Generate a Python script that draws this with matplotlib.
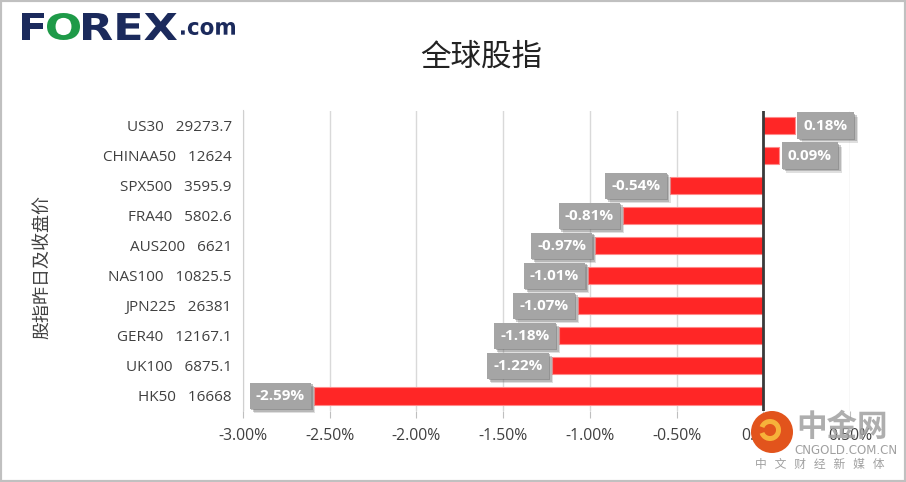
import numpy as np
import matplotlib
matplotlib.use("Agg")
import matplotlib.pyplot as plt
import matplotlib.patheffects as pe
from matplotlib.patches import Circle, Rectangle, PathPatch, Wedge
from matplotlib.textpath import TextPath
from matplotlib.font_manager import FontProperties
from matplotlib.transforms import Affine2D

plt.rcParams['font.family'] = ['Open Sans', 'Noto Sans CJK SC', 'DejaVu Sans']

names = ["US30", "CHINAA50", "SPX500", "FRA40", "AUS200",
         "NAS100", "JPN225", "GER40", "UK100", "HK50"]
closes = ["29273.7", "12624", "3595.9", "5802.6", "6621",
          "10825.5", "26381", "12167.1", "6875.1", "16668"]
changes = [0.18, 0.09, -0.54, -0.81, -0.97, -1.01, -1.07, -1.18, -1.22, -2.59]
xticks = [-3.0, -2.5, -2.0, -1.5, -1.0, -0.5, 0.0, 0.5]

NAVY = "#1b2a5c"
GREEN = "#1e9a48"
CJK = ["Noto Sans CJK SC", "DejaVu Sans"]

W, H = 906, 482
fig = plt.figure(figsize=(W / 100, H / 100), dpi=100)
fig.patch.set_facecolor("white")
fig.add_artist(Rectangle((0, 0), 1, 1, transform=fig.transFigure, fill=False,
                         ec="#c0c0c0", lw=3))

ax = fig.add_axes([243 / W, 1 - 411 / H, 607 / W, 300.5 / H])
y = np.arange(len(names))
ax.barh(y, changes, height=0.57, color="#ff2626", ec="#ff8a8a", lw=0.8, zorder=3)
ax.set_xlim(-3.0, 0.5)
ax.set_ylim(len(names) - 0.5, -0.5)
ax.set_xticks(xticks)
ax.set_xticklabels([f"{v:.2f}%" for v in xticks], fontsize=11.3, color="#404040")
ax.set_yticks(y)
ax.set_yticklabels([f"{n}   {c}" for n, c in zip(names, closes)], fontsize=11, color="#404040")
ax.tick_params(axis="y", length=0, pad=8)
ax.tick_params(axis="x", length=5, color="#bfbfbf", pad=7)
ax.grid(axis="x", color="#d9d9d9", lw=1, zorder=0)
for s in ["top", "right", "bottom"]:
    ax.spines[s].set_visible(False)
ax.spines["left"].set_color("#d0d0d0")
ax.axvline(0, color="#3a3a3a", lw=2, zorder=4)

for yi, v in zip(y, changes):
    off, ha = ((6.5, "left") if v >= 0 else (-6.5, "right"))
    t = ax.annotate(f"{v:.2f}%", (v, yi), xytext=(off, 0), textcoords="offset points",
                    ha=ha, va="center", fontsize=11, fontweight="bold", color="white",
                    bbox=dict(boxstyle="square,pad=0.4", fc="#a5a5a5", ec="none"), zorder=5)
    # soft drop shadow, faked with a few stacked offsets
    t.get_bbox_patch().set_path_effects([
        pe.withSimplePatchShadow(offset=(3, -3), shadow_rgbFace="#808080", alpha=0.25),
        pe.withSimplePatchShadow(offset=(2, -2), shadow_rgbFace="#707070", alpha=0.35),
        pe.withSimplePatchShadow(offset=(1, -1), shadow_rgbFace="#606060", alpha=0.4),
        pe.Normal()])

fig.text(42 / W, 1 - 267 / H, "股指昨日及收盘价", rotation=90, ha="center", va="center",
         fontsize=13, color="#404040", family=CJK)
fig.text(481 / W, 1 - 57 / H, "全球股指", ha="center", va="center", fontsize=22,
         color="#222222", family=CJK)


def fit_text(s, x0, y0, x1, y1, color):
    """Draw s stretched into the pixel box (x0, y0)-(x1, y1), y from the top."""
    path = TextPath((0, 0), s, size=100, prop=FontProperties(family="DejaVu Sans", weight="bold"))
    e = path.get_extents()
    tr = (Affine2D().translate(-e.x0, -e.y0)
          .scale((x1 - x0) / e.width, (y1 - y0) / e.height)
          .translate(x0, H - y1))
    fig.add_artist(PathPatch(tr.transform_path(path), transform=None, fc=color, ec="none"))


# FOREX.com logo
fit_text("F", 22, 13, 44, 40, NAVY)
fit_text("O", 47, 13, 80, 40, GREEN)
fit_text("REX", 83, 13, 177, 40, NAVY)
fit_text(".com", 181, 22, 235, 35, NAVY)

# watermark
fig.add_artist(Circle((772, H - 432), 21, transform=None, fc="#e2541c", ec="none", zorder=10))
fig.add_artist(Wedge((770, H - 430), 11, 200, 520, width=5, transform=None, fc="#f6b23a",
                     ec="none", zorder=11))
fig.text(842 / W, 1 - 427 / H, "中金网", ha="center", va="center", fontsize=22, fontweight="bold",
         color="#a0a0a0", alpha=0.85, family=CJK, zorder=10)
fig.text(846 / W, 1 - 450 / H, "CNGOLD.COM.CN", ha="center", va="center", fontsize=8.5,
         color="#a0a0a0", family="DejaVu Sans", zorder=10)
fig.text(820 / W, 1 - 464 / H, "中   文   财   经   新   媒   体", ha="center", va="center",
         fontsize=8.5, color="#a0a0a0", family=CJK, zorder=10)

fig.savefig("out.png", dpi=100)
